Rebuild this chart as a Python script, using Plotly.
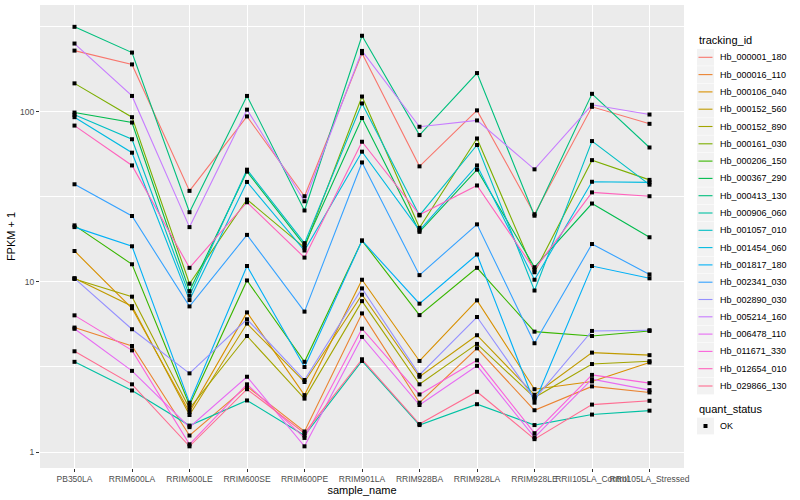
import plotly.graph_objects as go

samples = ["PB350LA", "RRIM600LA", "RRIM600LE", "RRIM600SE", "RRIM600PE", "RRIM901LA",
           "RRIM928BA", "RRIM928LA", "RRIM928LE", "RRII105LA_Control", "RRII105LA_Stressed"]

tracking_ids = ["Hb_000001_180", "Hb_000016_110", "Hb_000106_040", "Hb_000152_560", "Hb_000152_890",
                "Hb_000161_030", "Hb_000206_150", "Hb_000367_290", "Hb_000413_130", "Hb_000906_060",
                "Hb_001057_010", "Hb_001454_060", "Hb_001817_180", "Hb_002341_030", "Hb_002890_030",
                "Hb_005214_160", "Hb_006478_110", "Hb_011671_330", "Hb_012654_010", "Hb_029866_130"]

colors = ["#F8766D", "#EA8331", "#D89000", "#C09B00", "#A3A500", "#7CAE00", "#39B600", "#00BB4E",
          "#00BF7D", "#00C1A3", "#00BFC4", "#00BAE0", "#00B0F6", "#35A2FF", "#9590FF", "#C77CFF",
          "#E76BF3", "#FA62DB", "#FF62BC", "#FF6C91"]

hb_000001_180 = [229, 190, 34.3, 94, 31.9, 221, 47.8, 102, 25, 107, 85]
hb_000016_110 = [5.39, 4.2, 1.25, 2.43, 1.32, 6.53, 1.95, 4.07, 1.76, 2.43, 2.24]
hb_000106_040 = [15.2, 7.0, 1.72, 6.62, 2.16, 10.3, 3.43, 7.79, 2.34, 2.6, 3.36]
hb_000152_560 = [10.5, 7.2, 1.65, 5.69, 2.58, 8.41, 2.77, 4.86, 2.17, 3.84, 3.71]
hb_000152_890 = [10.4, 8.19, 1.80, 4.81, 2.06, 7.71, 2.5, 4.32, 2.09, 3.29, 3.42]
hb_000161_030 = [147, 93, 9.76, 30.5, 15.9, 123, 20.8, 69.7, 11.4, 52, 39.8]
hb_000206_150 = [21.5, 12.7, 1.89, 10.2, 3.39, 17.5, 6.38, 12.1, 5.1, 4.81, 5.15]
hb_000367_290 = [99, 86.5, 8.83, 44.5, 16.4, 92, 19.7, 45.7, 12.2, 28.9, 18.3]
hb_000413_130 = [316, 223, 25.7, 124, 26.3, 280, 73, 169, 24.5, 127.6, 61.7]
hb_000906_060 = [3.39, 2.3, 1.43, 2.01, 1.25, 3.43, 1.44, 1.91, 1.44, 1.66, 1.75]
hb_001057_010 = [96, 69, 8.3, 45.7, 16.9, 112, 24.6, 63.8, 8.9, 67.3, 37.3]
hb_001454_060 = [93, 57.5, 7.82, 38.7, 15.3, 58.3, 20.1, 48.4, 10.3, 38.8, 38.5]
hb_001817_180 = [21, 16.2, 1.95, 12.4, 3.16, 17.5, 7.45, 14.5, 1.95, 12.4, 10.5]
hb_002341_030 = [37.5, 24.4, 7.18, 18.9, 6.69, 50.4, 10.96, 21.8, 4.36, 16.7, 11.07]
hb_002890_030 = [10.5, 5.27, 2.9, 6.03, 2.65, 9.16, 2.84, 6.22, 2.05, 5.15, 5.2]
hb_005214_160 = [252, 124, 21, 103, 29.8, 228, 81.7, 89, 45.9, 110, 96.4]
hb_006478_110 = [5.3, 3.0, 1.40, 2.77, 1.08, 4.75, 1.89, 3.21, 1.22, 2.68, 2.31]
hb_011671_330 = [6.36, 3.96, 1.11, 2.5, 1.21, 5.31, 2.18, 3.46, 1.29, 2.84, 2.54]
hb_012654_010 = [83, 48.4, 12.1, 29.4, 13.9, 66.7, 24.8, 36.9, 11.8, 33.6, 31.9]
hb_029866_130 = [3.91, 2.5, 1.08, 2.34, 1.29, 3.51, 1.46, 2.26, 1.19, 1.9, 2.0]

series_values = [hb_000001_180, hb_000016_110, hb_000106_040, hb_000152_560, hb_000152_890,
                 hb_000161_030, hb_000206_150, hb_000367_290, hb_000413_130, hb_000906_060,
                 hb_001057_010, hb_001454_060, hb_001817_180, hb_002341_030, hb_002890_030,
                 hb_005214_160, hb_006478_110, hb_011671_330, hb_012654_010, hb_029866_130]

quant_levels = ["OK"]

y_tick_vals = [1, 10, 100]
y_tick_text = ["1", "10", "100"]

FONT = "Liberation Sans, Arial, sans-serif"

W, H = 800, 500
ML, MR, MT, MB = 40, 116, 5, 32
PW, PH = W - ML - MR, H - MT - MB


def px(xp):
    return (xp - ML) / PW


def py(yp):
    return (H - MB - yp) / PH


fig = go.Figure()
for name, col, vals in zip(tracking_ids, colors, series_values):
    fig.add_trace(go.Scatter(
        x=samples, y=vals, mode="lines", name=name,
        line=dict(color=col, width=1.1), showlegend=False,
    ))

all_x = [s for vals in series_values for s in samples]
all_y = [v for vals in series_values for v in vals]
fig.add_trace(go.Scatter(
    x=all_x, y=all_y, mode="markers", name=quant_levels[0], showlegend=False,
    marker=dict(symbol="square", size=4, color="black"),
))

# manual ggplot-style legend
shapes = []
annotations = []
annotations.append(dict(x=px(697), y=py(40), xref="paper", yref="paper", text="tracking_id",
                        showarrow=False, xanchor="left", yanchor="middle",
                        font=dict(size=11, color="black", family=FONT)))
key_x0, key_x1 = 697, 714
for i, (name, col) in enumerate(zip(tracking_ids, colors)):
    cy = 57.3 + i * 17.3
    shapes.append(dict(type="rect", xref="paper", yref="paper",
                       x0=px(key_x0), x1=px(key_x1), y0=py(cy - 8.4), y1=py(cy + 8.4),
                       fillcolor="#F2F2F2", line=dict(width=0), layer="above"))
    shapes.append(dict(type="line", xref="paper", yref="paper",
                       x0=px(key_x0 + 1.5), x1=px(key_x1 - 1.5), y0=py(cy), y1=py(cy),
                       line=dict(color=col, width=1.1), layer="above"))
    annotations.append(dict(x=px(718), y=py(cy), xref="paper", yref="paper", text=name,
                            showarrow=False, xanchor="left", yanchor="middle",
                            font=dict(size=9, color="black", family=FONT)))

annotations.append(dict(x=px(697), y=py(409), xref="paper", yref="paper", text="quant_status",
                        showarrow=False, xanchor="left", yanchor="middle",
                        font=dict(size=11, color="black", family=FONT)))
ok_y = 426
shapes.append(dict(type="rect", xref="paper", yref="paper",
                   x0=px(key_x0), x1=px(key_x1), y0=py(ok_y - 8.4), y1=py(ok_y + 8.4),
                   fillcolor="#F2F2F2", line=dict(width=0), layer="above"))
shapes.append(dict(type="rect", xref="paper", yref="paper",
                   x0=px(703.5), x1=px(707.5), y0=py(ok_y + 2), y1=py(ok_y - 2),
                   fillcolor="black", line=dict(width=0), layer="above"))
annotations.append(dict(x=px(718), y=py(ok_y), xref="paper", yref="paper", text=quant_levels[0],
                        showarrow=False, xanchor="left", yanchor="middle",
                        font=dict(size=9, color="black", family=FONT)))

fig.update_layout(
    width=W, height=H,
    margin=dict(l=ML, r=MR, t=MT, b=MB, autoexpand=False),
    paper_bgcolor="white",
    plot_bgcolor="#EBEBEB",
    font=dict(family=FONT, color="black"),
    showlegend=False,
    hovermode=False,
    shapes=shapes,
    annotations=annotations,
    xaxis=dict(
        type="category", categoryorder="array", categoryarray=samples,
        range=[-0.6, 10.6],
        showgrid=True, gridcolor="white", gridwidth=1.1,
        zeroline=False, showline=False,
        ticks="outside", ticklen=3, tickcolor="#333333", tickwidth=1,
        tickfont=dict(size=8.5, color="#4D4D4D", family=FONT),
        tickangle=0, automargin=False,
        title=dict(text="sample_name", font=dict(size=11, color="black", family=FONT), standoff=1),
    ),
    yaxis=dict(
        type="log",
        range=[-0.094, 2.628],
        tickvals=y_tick_vals, ticktext=y_tick_text,
        showgrid=True, gridcolor="white", gridwidth=1.1,
        minor=dict(tickvals=[3.162, 31.62, 316.2], showgrid=True, gridcolor="white", gridwidth=0.5, ticks=""),
        zeroline=False, showline=False,
        ticks="outside", ticklen=3, tickcolor="#333333", tickwidth=1,
        tickfont=dict(size=8.5, color="#4D4D4D", family=FONT),
        automargin=False,
        title=dict(text="FPKM + 1", font=dict(size=11, color="black", family=FONT), standoff=2),
    ),
)

fig.write_html("out.html", config={"displayModeBar": False},
               post_script="document.body.style.margin='0';document.body.style.overflow='hidden';")
